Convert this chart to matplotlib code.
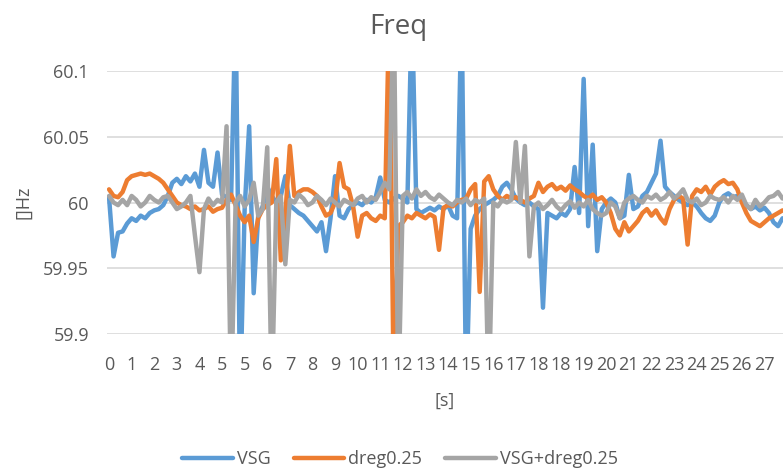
import numpy as np
from matplotlib import pyplot as plt

plt.rcParams['font.family'] = ['Open Sans', 'DejaVu Sans']

# sample time in label units (0.2 per sample)
t = np.arange(150) * 0.2

# deviation from 60 Hz in mHz
vsg = np.array([
    4, -41, -23, -22, -16, -12, -14, -10, -12, -8,
    -6, -5, -2, 5, 15, 18, 14, 20, 16, 22,
    12, 40, 15, 12, 38, 6, 4, 2, 150, -150,
    -5, 58, -69, -10, -3, 12, 5, 0, 5, 20,
    -2, -5, -8, -10, -14, -18, -22, -15, -37, -12,
    20, -10, -12, -5, -2, 0, -2, 2, 0, 4,
    19, 2, 0, 3, 5, 3, 0, 150, -5, -8,
    -6, -4, -6, -3, -5, -2, -10, -12, 150, -150,
    -20, -10, -5, -2, 0, 2, 5, 12, 15, 10,
    3, 0, -2, 0, -3, -5, -80, -8, -10, -12,
    -8, -10, -5, 27, -8, 94, -18, 44, -37, -5,
    0, 3, 0, -12, -10, 21, -5, -3, 5, 8,
    15, 22, 47, 12, 8, 5, 2, 0, -2, 0,
    -3, -8, -12, -14, -10, 0, 5, 7, 4, 5,
    2, -2, -5, -3, -6, -4, -8, -15, -18, -12,
])
dreg = np.array([
    10, 5, 4, 8, 17, 20, 21, 22, 21, 22,
    20, 18, 15, 10, 5, 0, -2, -3, -5, -3,
    -6, -5, -3, -7, -5, -4, 2, 6, -2, -10,
    -15, -10, -30, -12, -5, -2, 0, 33, -44, -10,
    43, 5, 8, 10, 10, 8, 5, -3, -10, -8,
    0, 30, 12, 10, -3, -26, -10, -8, -12, -14,
    -10, -12, 150, -150, -18, -15, -10, -12, -8, -10,
    -12, -9, -11, -36, -4, -2, -3, 0, 2, 3,
    10, 14, -68, 16, 20, 10, 5, 2, 5, 3,
    4, 2, 0, 3, 5, 15, 8, 12, 14, 10,
    12, 9, 13, 10, 8, 5, 3, 6, 2, 4,
    0, -8, -20, -25, -15, -22, -18, -14, -8, -5,
    -10, -6, -12, -16, -5, 2, 5, 3, -32, 5,
    10, 8, 12, 6, 12, 15, 17, 14, 15, 10,
    0, -8, -14, -16, -18, -15, -12, -10, -8, -6,
])
both = np.array([
    5, 0, -2, 2, -2, 5, 2, -3, 0, 5,
    2, 0, 4, 5, 0, -5, -3, 0, 5, -25,
    -53, -5, 3, -2, 2, 0, 58, -150, 0, 5,
    -3, 2, 15, -10, -5, 42, -150, 0, 5, -47,
    2, 0, 6, 3, -2, 0, 5, 2, -2, 3,
    0, -3, 2, 0, -2, 3, 5, 0, 4, 2,
    8, 15, 10, 150, -150, 5, 8, 3, 10, 5,
    8, 4, 2, 6, 3, 0, -2, 2, 0, 3,
    -2, 2, 0, 3, -150, 0, -3, 2, 0, 2,
    46, 0, 43, -41, -3, 0, -5, -2, 2, -3,
    -6, -2, 1, -4, 0, -3, 2, -5, -8, -10,
    -8, 0, -3, -12, 0, 3, 5, 2, 0, 5,
    3, 6, 2, 4, 8, 3, 6, 10, 2, 0,
    3, -2, 0, 5, 3, 2, 4, 0, 5, 2,
    6, -2, -5, 2, -3, 0, 4, 5, 8, 3,
])

xlabels = ['0', '1', '2', '3', '4', '5', '5', '6', '7', '8', '9', '10', '11', '12',
           '13', '14', '15', '16', '17', '18', '18', '19', '20', '21', '22', '23',
           '24', '25', '26', '27']
yticks = [59.9, 59.95, 60, 60.05, 60.1]
ylabels = ['59.9', '59.95', '60', '60.05', '60.1']

txt = '#595959'
fig = plt.figure(figsize=(7.83, 4.74), dpi=100)
ax = fig.add_axes([107/783, 140/474, 676/783, 263/474])

kw = dict(lw=3.2, solid_joinstyle='round', solid_capstyle='round')
ax.plot(t, 60 + vsg/1000, color='#5B9BD5', label='VSG', **kw)
ax.plot(t, 60 + dreg/1000, color='#ED7D31', label='dreg0.25', **kw)
ax.plot(t, 60 + both/1000, color='#A5A5A5', label='VSG+dreg0.25', **kw)

ax.set_ylim(59.9, 60.1)
ax.set_xlim(-0.09, 29.82)
ax.set_yticks(yticks)
ax.set_yticklabels(ylabels)
ax.set_xticks(range(len(xlabels)))
ax.set_xticklabels(xlabels)
ax.tick_params(length=0, labelsize=13, colors=txt)
ax.tick_params(axis='y', pad=13)
ax.tick_params(axis='x', pad=15.5)
ax.grid(axis='y', color='#D9D9D9', lw=1.2)
ax.set_axisbelow(True)
for s in ax.spines.values():
    s.set_visible(False)

ax.set_xlabel('[s]', fontsize=13, color=txt, labelpad=13)
ax.set_ylabel('[]Hz', fontsize=13, color=txt)
ax.yaxis.set_label_coords(-0.111, 0.5)

fig.text(398/783, 1 - 27/474, 'Freq', fontsize=20, color=txt, ha='center', va='center')
fig.legend(loc='center', bbox_to_anchor=(400/783, 1 - 459/474), ncol=3, frameon=False,
           fontsize=13, handlelength=2.8, handletextpad=0.2, columnspacing=1.3,
           labelcolor=txt)

plt.savefig('out.png', dpi=100)
